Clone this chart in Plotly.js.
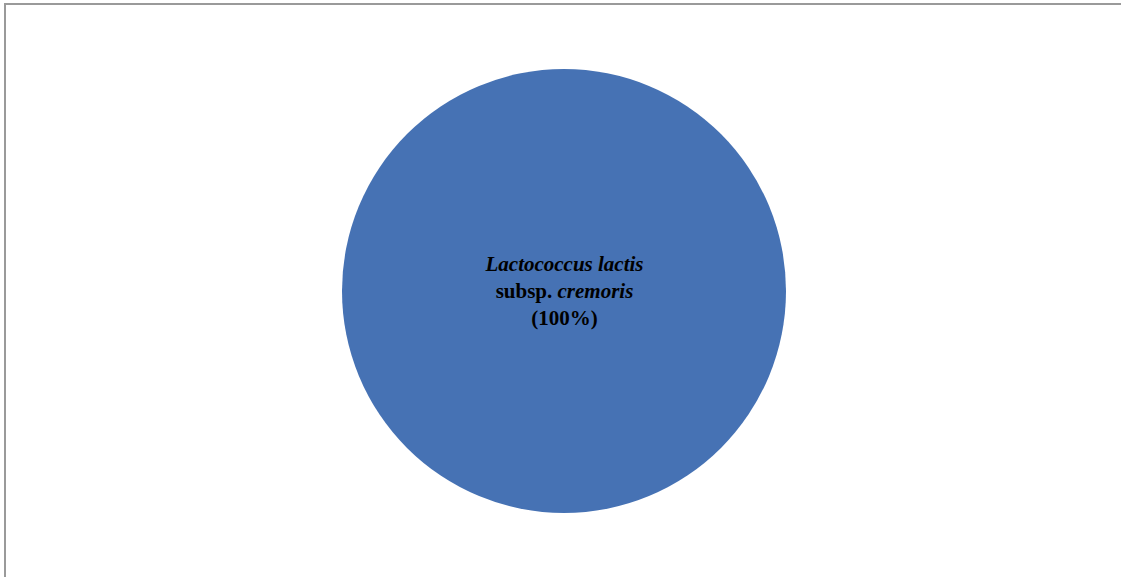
<!DOCTYPE html>
<html>
<head>
<meta charset="utf-8">
<script src="https://cdn.plot.ly/plotly-3.0.1.min.js"></script>
<style>
  html, body { margin: 0; padding: 0; background: #ffffff; }
  #frame { position: absolute; left: 4px; top: 3px; width: 1117px; height: 574px;
           border-top: 2px solid #9a9a9a; border-left: 2px solid #9a9a9a; box-sizing: border-box; }
  #chart { position: absolute; left: 0; top: 0; width: 1121px; height: 577px; }
</style>
</head>
<body>
<div id="frame"></div>
<div id="chart"></div>
<script>
const categories = ["<i>Lactococcus lactis</i><br>subsp. <i>cremoris</i><br>(100%)"];
const values = [100];
const colors = ["#4672B4"];

Plotly.newPlot("chart", [{
  type: "pie",
  labels: categories,
  values: values,
  text: categories,
  textinfo: "text",
  hoverinfo: "none",
  textposition: "inside",
  insidetextorientation: "horizontal",
  sort: false,
  marker: { colors: colors, line: { width: 0 } },
  textfont: { family: "Liberation Serif, Times New Roman, serif", size: 21, color: "#000000", weight: "bold" },
  domain: { x: [342/1121, 786/1121], y: [1 - 513/577, 1 - 69/577] },
  showlegend: false
}], {
  width: 1121, height: 577,
  margin: { l: 0, r: 0, t: 0, b: 0 },
  paper_bgcolor: "rgba(0,0,0,0)",
  plot_bgcolor: "rgba(0,0,0,0)",
  showlegend: false
}, { displayModeBar: false, staticPlot: true });
</script>
</body>
</html>
